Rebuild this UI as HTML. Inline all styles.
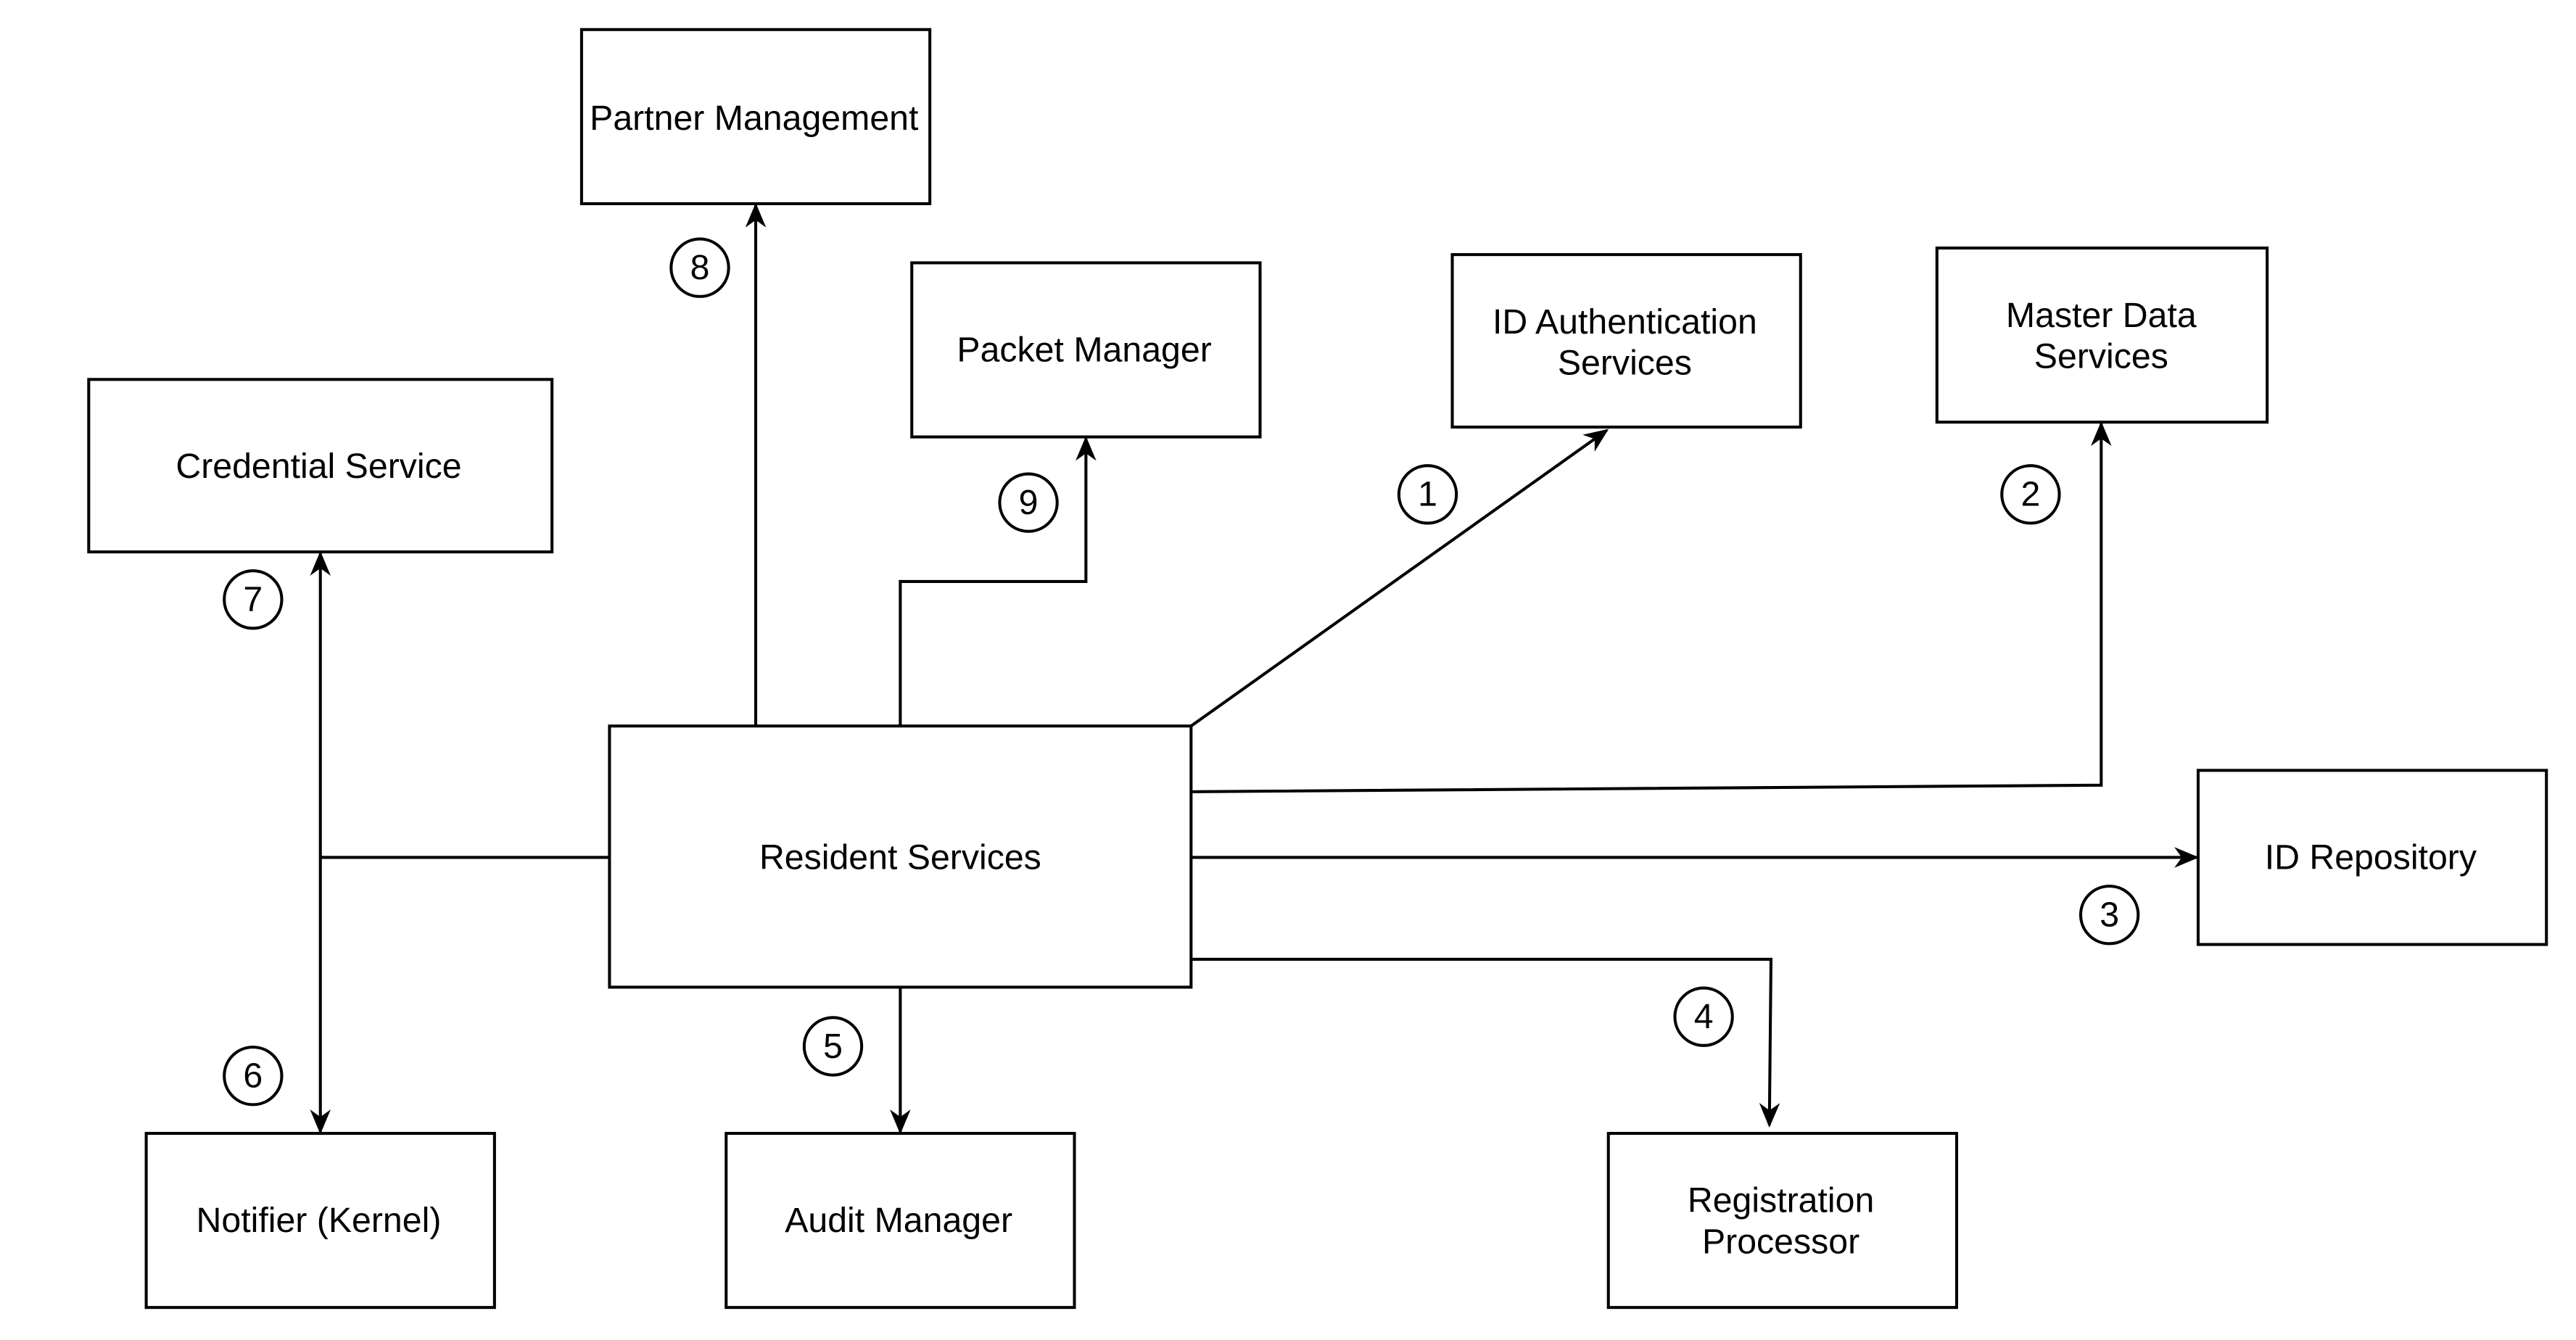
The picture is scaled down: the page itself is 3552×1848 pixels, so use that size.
<!DOCTYPE html>
<html><head><meta charset="utf-8"><style>
html,body{margin:0;padding:0;background:#fff;}
svg{display:block;}
text{font-family:"Liberation Sans",Arial,sans-serif;font-size:21.3px;fill:#000;}
</style></head><body>
<svg width="3552" height="1848" viewBox="0 0 1568 815.8" preserveAspectRatio="none" xmlns="http://www.w3.org/2000/svg">
<defs>
<marker id="a" viewBox="0 0 10 10" refX="9" refY="5" markerWidth="15" markerHeight="15" markerUnits="userSpaceOnUse" orient="auto-start-reverse">
<path d="M0,0.8 L10,5 L0,9.2 L3,5 Z" fill="#000"/>
</marker>
</defs>
<g fill="#fff" stroke="#000" stroke-width="1.8">
<rect x="354" y="18" width="212" height="106"/>
<rect x="555" y="160" width="212" height="106"/>
<rect x="884" y="155" width="212" height="105"/>
<rect x="1179" y="151" width="201" height="106"/>
<rect x="54" y="231" width="282" height="105"/>
<rect x="371" y="442" width="354" height="159"/>
<rect x="1338" y="469" width="212" height="106"/>
<rect x="89" y="690" width="212" height="106"/>
<rect x="442" y="690" width="212" height="106"/>
<rect x="979" y="690" width="212" height="106"/>
</g>
<g fill="none" stroke="#000" stroke-width="1.8">
<path d="M460,442 L460,125" marker-end="url(#a)"/>
<path d="M548,442 L548,354 L661,354 L661,267" marker-end="url(#a)"/>
<path d="M725,442 L978,262" marker-end="url(#a)"/>
<path d="M725,482 L1279,478 L1279,258" marker-end="url(#a)"/>
<path d="M725,522 L1337,522" marker-end="url(#a)"/>
<path d="M725,584 L1078,584 L1077,685" marker-end="url(#a)"/>
<path d="M548,601 L548,689" marker-end="url(#a)"/>
<path d="M371,522 L195,522"/>
<path d="M195,337 L195,689" marker-start="url(#a)" marker-end="url(#a)"/>
</g>
<g fill="#fff" stroke="#000" stroke-width="1.8">
<circle cx="426" cy="163" r="17.5"/>
<circle cx="626" cy="306" r="17.5"/>
<circle cx="869" cy="301" r="17.5"/>
<circle cx="1236" cy="301" r="17.5"/>
<circle cx="154" cy="365" r="17.5"/>
<circle cx="1284" cy="557" r="17.5"/>
<circle cx="1037" cy="619" r="17.5"/>
<circle cx="507" cy="637" r="17.5"/>
<circle cx="154" cy="655" r="17.5"/>
</g>
<g text-anchor="middle">
<text x="426" y="170">8</text>
<text x="626" y="313">9</text>
<text x="869" y="308">1</text>
<text x="1236" y="308">2</text>
<text x="154" y="372">7</text>
<text x="1284" y="564">3</text>
<text x="1037" y="626">4</text>
<text x="507" y="644">5</text>
<text x="154" y="662">6</text>
<text x="459" y="79">Partner Management</text>
<text x="660" y="220">Packet Manager</text>
<text x="989" y="203">ID Authentication</text>
<text x="989" y="228">Services</text>
<text x="1279" y="199">Master Data</text>
<text x="1279" y="224">Services</text>
<text x="194" y="291">Credential Service</text>
<text x="548" y="529">Resident Services</text>
<text x="1443" y="529">ID Repository</text>
<text x="194" y="750">Notifier (Kernel)</text>
<text x="547" y="750">Audit Manager</text>
<text x="1084" y="738">Registration</text>
<text x="1084" y="763">Processor</text>
</g>
</svg>
</body></html>
